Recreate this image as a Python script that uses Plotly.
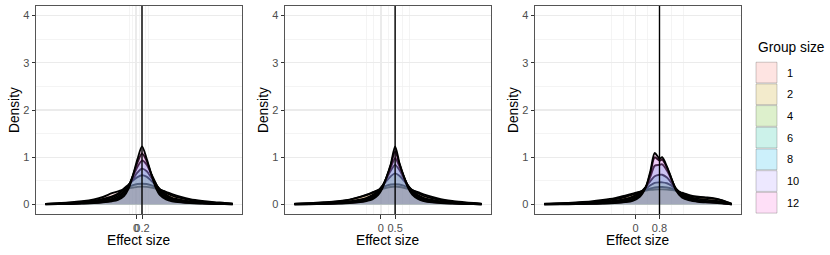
import plotly.graph_objects as go

# ---------------- data ----------------
effect_sizes = [0.2, 0.5, 0.8]
group_sizes = ["1", "2", "4", "6", "8", "10", "12"]
hue_colors = ["#F8766D", "#C49A00", "#53B400", "#00C094", "#00B6EB", "#A58AFF", "#FB61D7"]
x_tick_labels = [["0", "0.2"], ["0", "0.5"], ["0", "0.8"]]
y_tick_values = [0, 1, 2, 3, 4]
y_minor_values = [0.5, 1.5, 2.5, 3.5]
x_minor_values = [
    [-0.2, -0.1, 0.1, 0.3, 0.4],
    [-0.5, -0.25, 0.25, 0.75, 1.0],
    [-0.8, -0.4, 0.4, 1.2, 1.6],
]
x_ranges = [[-3.33, 3.53], [-3.36, 3.86], [-3.37, 3.53]]

# panel 1 (effect size 0.2)
p1_x = [-3.02, -2.6, -2.2, -1.8, -1.4, -1.1, -0.8, -0.6, -0.4, -0.25, -0.1, 0.05, 0.2,
        0.35, 0.5, 0.65, 0.8, 1.0, 1.2, 1.5, 1.8, 2.2, 2.6, 2.95, 3.22]
p1_g1 = [0.015, 0.03, 0.045, 0.07, 0.11, 0.16, 0.24, 0.28, 0.32, 0.345, 0.36, 0.375, 0.38,
         0.375, 0.36, 0.34, 0.31, 0.27, 0.22, 0.16, 0.115, 0.078, 0.052, 0.035, 0.018]
p1_g2 = [0.015, 0.025, 0.037, 0.055, 0.085, 0.12, 0.17, 0.23, 0.32, 0.37, 0.41, 0.435, 0.44,
         0.435, 0.41, 0.37, 0.32, 0.25, 0.19, 0.135, 0.095, 0.062, 0.04, 0.027, 0.016]
p1_g4 = [0.012, 0.018, 0.027, 0.042, 0.065, 0.095, 0.15, 0.22, 0.34, 0.42, 0.51, 0.58, 0.62,
         0.59, 0.51, 0.42, 0.32, 0.21, 0.14, 0.095, 0.065, 0.042, 0.027, 0.018, 0.012]
p1_g6 = [0.01, 0.015, 0.022, 0.035, 0.055, 0.08, 0.12, 0.18, 0.29, 0.4, 0.54, 0.68, 0.76,
         0.71, 0.58, 0.45, 0.31, 0.19, 0.12, 0.08, 0.055, 0.035, 0.022, 0.015, 0.01]
p1_g8 = [0.008, 0.012, 0.018, 0.03, 0.045, 0.065, 0.1, 0.145, 0.26, 0.4, 0.6, 0.8, 0.93,
         0.85, 0.66, 0.46, 0.28, 0.16, 0.1, 0.065, 0.045, 0.03, 0.018, 0.012, 0.008]
p1_g10 = [0.006, 0.01, 0.015, 0.024, 0.036, 0.055, 0.085, 0.12, 0.22, 0.37, 0.62, 0.89, 1.08,
          0.93, 0.66, 0.4, 0.23, 0.13, 0.085, 0.055, 0.036, 0.024, 0.015, 0.01, 0.006]
p1_g12 = [0.005, 0.008, 0.012, 0.02, 0.03, 0.045, 0.07, 0.1, 0.18, 0.33, 0.62, 0.96, 1.23,
          0.98, 0.66, 0.37, 0.2, 0.11, 0.07, 0.045, 0.03, 0.02, 0.012, 0.008, 0.005]

# panel 2 (effect size 0.5)
p2_x = [-3.03, -2.5, -2.0, -1.5, -1.1, -0.8, -0.5, -0.3, -0.1, 0.05, 0.2, 0.35, 0.5,
        0.65, 0.8, 0.95, 1.1, 1.3, 1.5, 1.8, 2.1, 2.5, 2.9, 3.25, 3.53]
p2_g1 = [0.016, 0.03, 0.047, 0.07, 0.105, 0.15, 0.21, 0.255, 0.3, 0.33, 0.355, 0.372, 0.38,
         0.372, 0.355, 0.33, 0.3, 0.26, 0.215, 0.16, 0.115, 0.075, 0.05, 0.032, 0.017]
p2_g2 = [0.015, 0.026, 0.04, 0.065, 0.1, 0.145, 0.2, 0.245, 0.305, 0.35, 0.4, 0.425, 0.43,
         0.425, 0.4, 0.36, 0.31, 0.24, 0.185, 0.13, 0.095, 0.062, 0.04, 0.026, 0.015]
p2_g4 = [0.011, 0.017, 0.027, 0.042, 0.065, 0.095, 0.14, 0.2, 0.29, 0.39, 0.5, 0.6, 0.66,
         0.61, 0.51, 0.4, 0.3, 0.2, 0.14, 0.095, 0.065, 0.042, 0.027, 0.017, 0.011]
p2_g6 = [0.009, 0.014, 0.022, 0.035, 0.055, 0.08, 0.12, 0.17, 0.27, 0.39, 0.55, 0.72, 0.84,
         0.73, 0.56, 0.4, 0.28, 0.18, 0.12, 0.08, 0.055, 0.035, 0.022, 0.014, 0.009]
p2_g8 = [0.007, 0.012, 0.019, 0.03, 0.045, 0.065, 0.1, 0.15, 0.25, 0.38, 0.57, 0.79, 0.98,
         0.81, 0.59, 0.4, 0.26, 0.155, 0.1, 0.065, 0.045, 0.03, 0.019, 0.012, 0.007]
p2_g10 = [0.005, 0.009, 0.015, 0.024, 0.036, 0.055, 0.085, 0.13, 0.22, 0.36, 0.58, 0.84, 1.12,
          0.86, 0.6, 0.38, 0.23, 0.135, 0.085, 0.055, 0.036, 0.024, 0.015, 0.01, 0.005]
p2_g12 = [0.004, 0.007, 0.012, 0.02, 0.03, 0.045, 0.075, 0.11, 0.2, 0.34, 0.58, 0.86, 1.23,
          0.88, 0.6, 0.36, 0.21, 0.12, 0.075, 0.045, 0.03, 0.02, 0.012, 0.008, 0.004]

# panel 3 (effect size 0.8)
p3_x = [-3.06, -2.5, -2.0, -1.5, -1.1, -0.7, -0.35, -0.1, 0.15, 0.35, 0.5, 0.64, 0.8,
        0.89, 1.05, 1.2, 1.35, 1.55, 1.8, 2.1, 2.4, 2.65, 2.9, 3.1, 3.22]
p3_g1 = [0.016, 0.028, 0.045, 0.065, 0.095, 0.135, 0.19, 0.23, 0.27, 0.295, 0.31, 0.318, 0.32,
         0.32, 0.315, 0.305, 0.29, 0.25, 0.2, 0.165, 0.15, 0.13, 0.09, 0.045, 0.016]
p3_g2 = [0.014, 0.022, 0.034, 0.05, 0.075, 0.11, 0.16, 0.21, 0.27, 0.31, 0.34, 0.36, 0.37,
         0.37, 0.36, 0.34, 0.3, 0.24, 0.19, 0.155, 0.14, 0.12, 0.085, 0.04, 0.015]
p3_g4 = [0.011, 0.017, 0.025, 0.037, 0.055, 0.08, 0.12, 0.17, 0.26, 0.34, 0.41, 0.46, 0.47,
         0.47, 0.45, 0.4, 0.33, 0.23, 0.16, 0.12, 0.1, 0.08, 0.055, 0.028, 0.01]
p3_g6 = [0.009, 0.014, 0.02, 0.03, 0.044, 0.065, 0.1, 0.15, 0.25, 0.38, 0.5, 0.6, 0.63,
         0.63, 0.57, 0.46, 0.33, 0.21, 0.14, 0.09, 0.07, 0.055, 0.038, 0.02, 0.008]
p3_g8 = [0.007, 0.011, 0.016, 0.024, 0.034, 0.05, 0.08, 0.12, 0.22, 0.38, 0.6, 0.82, 0.84,
         0.85, 0.72, 0.53, 0.34, 0.19, 0.12, 0.075, 0.058, 0.046, 0.032, 0.016, 0.006]
p3_g10 = [0.005, 0.008, 0.012, 0.018, 0.026, 0.038, 0.06, 0.095, 0.19, 0.38, 0.68, 1.0, 0.93,
          0.95, 0.78, 0.55, 0.32, 0.165, 0.1, 0.065, 0.05, 0.04, 0.028, 0.014, 0.005]
p3_g12 = [0.004, 0.006, 0.009, 0.014, 0.02, 0.03, 0.05, 0.08, 0.17, 0.38, 0.72, 1.09, 0.97,
          1.0, 0.8, 0.55, 0.3, 0.15, 0.09, 0.06, 0.045, 0.035, 0.025, 0.012, 0.004]

panel_x = [p1_x, p2_x, p3_x]
panel_densities = [
    [p1_g1, p1_g2, p1_g4, p1_g6, p1_g8, p1_g10, p1_g12],
    [p2_g1, p2_g2, p2_g4, p2_g6, p2_g8, p2_g10, p2_g12],
    [p3_g1, p3_g2, p3_g4, p3_g6, p3_g8, p3_g10, p3_g12],
]

# ---------------- layout helpers ----------------
W, H = 830, 255
FONT = "Liberation Sans, Arial, Helvetica, sans-serif"
panel_px = [(36, 242), (285, 491), (535, 741)]
top_px, bottom_px = 6, 214


def rgba(hex_color, a):
    h = hex_color.lstrip("#")
    r, g, b = int(h[0:2], 16), int(h[2:4], 16), int(h[4:6], 16)
    return f"rgba({r},{g},{b},{a})"


fig = go.Figure()
shapes = []
annotations = []

for p in range(3):
    xa = "x" if p == 0 else f"x{p + 1}"
    ya = "y" if p == 0 else f"y{p + 1}"
    for g in range(len(group_sizes)):
        fig.add_trace(go.Scatter(
            x=panel_x[p], y=panel_densities[p][g],
            mode="lines", fill="tozeroy",
            fillcolor=rgba(hue_colors[g], 0.2),
            line=dict(color="black", width=1.9, shape="spline", smoothing=0.8),
            name=group_sizes[g], showlegend=False, hoverinfo="skip",
            xaxis=xa, yaxis=ya,
        ))
    # vertical line at true effect size
    shapes.append(dict(type="line", xref=xa, yref=f"{ya} domain",
                       x0=effect_sizes[p], x1=effect_sizes[p], y0=0, y1=1,
                       line=dict(color="black", width=1.4), layer="above"))

    l, r = panel_px[p]
    xdom = [l / W, r / W]
    ydom = [1 - bottom_px / H, 1 - top_px / H]
    axis_common = dict(
        showline=True, mirror=True, linecolor="#555555", linewidth=1,
        ticks="outside", ticklen=3.5, tickwidth=1, tickcolor="#333333",
        tickfont=dict(family=FONT, size=11, color="#4D4D4D"),
        showgrid=True, gridcolor="#EBEBEB", gridwidth=1.3,
        zeroline=False, fixedrange=True, tickangle=0,
    )
    xkey = "xaxis" if p == 0 else f"xaxis{p + 1}"
    ykey = "yaxis" if p == 0 else f"yaxis{p + 1}"
    fig.update_layout(**{
        xkey: dict(axis_common, domain=xdom, anchor=ya, range=x_ranges[p],
                   tickmode="array", tickvals=[0, effect_sizes[p]],
                   ticktext=x_tick_labels[p],
                   minor=dict(tickmode="array", tickvals=x_minor_values[p],
                              showgrid=True, gridcolor="#EFEFEF", gridwidth=0.7, ticks="")),
        ykey: dict(axis_common, domain=ydom, anchor=xa, range=[-0.2, 4.2],
                   tickmode="array", tickvals=y_tick_values,
                   ticktext=[str(v) for v in y_tick_values],
                   minor=dict(tickmode="array", tickvals=y_minor_values,
                              showgrid=True, gridcolor="#EFEFEF", gridwidth=0.7, ticks="")),
    })
    # axis titles
    annotations.append(dict(text="Effect size", xref="paper", yref="paper",
                            x=(l + r) / 2 / W, y=1 - 240 / H, showarrow=False,
                            xanchor="center", yanchor="middle",
                            font=dict(family=FONT, size=13.75, color="black")))
    annotations.append(dict(text="Density", xref="paper", yref="paper",
                            x=(l - 22) / W, y=1 - ((top_px + bottom_px) / 2) / H,
                            showarrow=False, textangle=-90,
                            xanchor="center", yanchor="middle",
                            font=dict(family=FONT, size=13.75, color="black")))

# manual legend
annotations.append(dict(text="Group size", xref="paper", yref="paper",
                        x=756 / W, y=1 - 47 / H, showarrow=False,
                        xanchor="left", yanchor="middle",
                        font=dict(family=FONT, size=13.75, color="black")))
key_top, key_h, key_l, key_w = 61.7, 21.7, 756, 21
for g in range(len(group_sizes)):
    y0 = key_top + g * key_h + 0.5
    y1 = key_top + (g + 1) * key_h - 0.5
    shapes.append(dict(type="rect", xref="paper", yref="paper",
                       x0=key_l / W, x1=(key_l + key_w) / W,
                       y0=1 - y1 / H, y1=1 - y0 / H,
                       fillcolor=rgba(hue_colors[g], 0.2),
                       line=dict(color="rgba(0,0,0,0.2)", width=1)))
    annotations.append(dict(text=group_sizes[g], xref="paper", yref="paper",
                            x=785 / W, y=1 - ((y0 + y1) / 2) / H, showarrow=False,
                            xanchor="left", yanchor="middle",
                            font=dict(family=FONT, size=11, color="black")))

fig.update_layout(
    width=W, height=H, autosize=False,
    margin=dict(l=0, r=0, t=0, b=0),
    paper_bgcolor="white", plot_bgcolor="white",
    showlegend=False, shapes=shapes, annotations=annotations,
    font=dict(family=FONT),
)

fig.write_html(
    "out.html",
    config={"displayModeBar": False, "staticPlot": True},
    post_script="document.body.style.margin='0';document.body.style.overflow='hidden';",
)
